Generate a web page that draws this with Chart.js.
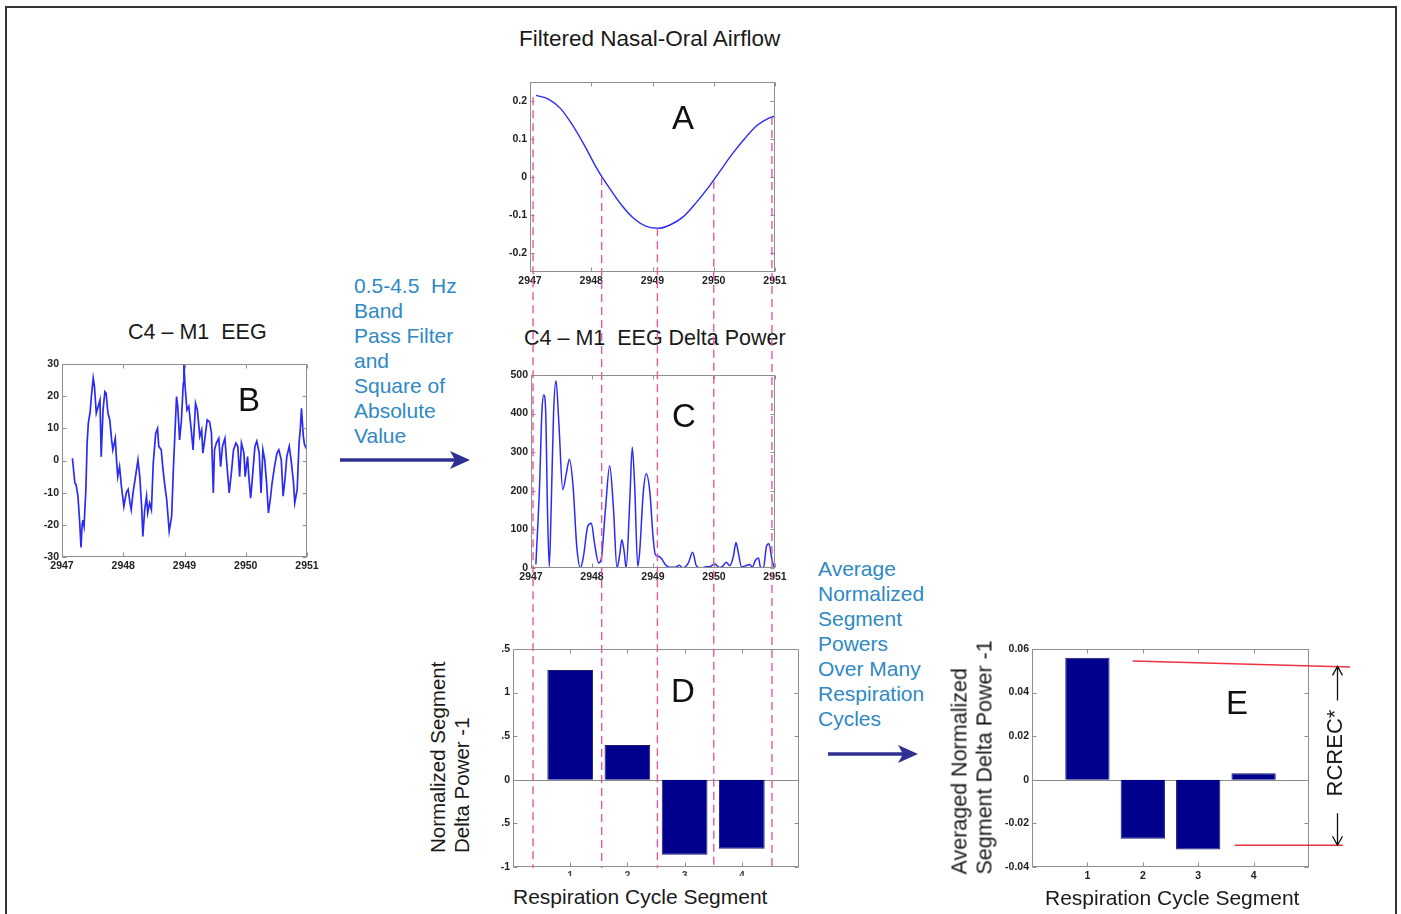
<!DOCTYPE html>
<html>
<head>
<meta charset="utf-8">
<script src="https://cdn.jsdelivr.net/npm/chart.js@4.4.0/dist/chart.umd.min.js"></script>
<style>
  html, body { margin: 0; padding: 0; background: #fff; overflow: hidden; }
  body { width: 1401px; height: 914px; position: relative; font-family: "Liberation Sans", Arial, sans-serif; color: #1a1a1a; }
  .frame { position: absolute; left: 5px; top: 6px; width: 1392px; height: 940px; border: 2px solid #333; box-sizing: border-box; }
  .panel { position: absolute; }
  .panel canvas { display: block; }
  .txt { position: absolute; font-size: 21px; line-height: 25px; white-space: nowrap; }
  .blue { color: #2f89c3; }
  .letter { position: absolute; font-size: 33px; line-height: 33px; width: 40px; text-align: center; color: #111; }
  .rot { position: absolute; transform: rotate(-90deg); white-space: nowrap; }
  svg { position: absolute; left: 0; top: 0; }
</style>
</head>
<body>
<div class="frame"></div>

<div class="txt" style="left:519px; top:26px; font-size:22.5px;">Filtered Nasal-Oral Airflow</div>
<div class="txt" style="left:128px; top:320px; font-size:21.5px;">C4 – M1&nbsp; EEG</div>
<div class="txt" style="left:524px; top:326px; font-size:21.5px;">C4 – M1&nbsp; EEG Delta Power</div>

<div class="txt blue" style="left:354px; top:273px;">0.5-4.5&nbsp; Hz<br>Band<br>Pass Filter<br>and<br>Square of<br>Absolute<br>Value</div>
<div class="txt blue" style="left:818px; top:556px;">Average<br>Normalized<br>Segment<br>Powers<br>Over Many<br>Respiration<br>Cycles</div>

<div class="panel" style="left:495px; top:76px; width:300px; height:220px;"><canvas id="chartA"></canvas></div>
<div class="panel" style="left:25px; top:358px; width:300px; height:225px;"><canvas id="chartB"></canvas></div>
<div class="panel" style="left:495px; top:369px; width:300px; height:225px;"><canvas id="chartC"></canvas></div>
<div class="panel" style="left:480px; top:643px; width:330px; height:250px;"><canvas id="chartD"></canvas></div>
<div class="panel" style="left:960px; top:643px; width:436px; height:250px;"><canvas id="chartE"></canvas></div>

<div class="rot" style="left:340px; top:719px; width:220px; height:48px; font-size:20.5px; line-height:24px; text-align:left;">Normalized Segment<br>Delta Power -1</div>
<div class="rot" style="left:855px; top:732px; width:235px; height:50px; font-size:21.5px; line-height:25px; text-align:left;">Averaged Normalized<br>Segment Delta Power -1</div>
<div class="rot" style="left:1285px; top:740px; width:100px; height:26px; line-height:26px; text-align:center; font-size:22px;">RCREC*</div>
<div class="txt" style="left:500px; top:876px; width:290px; padding:8px 0 0 13px; background:#fff;">Respiration Cycle Segment</div>
<div class="txt" style="left:1045px; top:885px;">Respiration Cycle Segment</div>

<div class="letter" style="left:663px; top:101px;">A</div>
<div class="letter" style="left:229px; top:383px;">B</div>
<div class="letter" style="left:664px; top:399px;">C</div>
<div class="letter" style="left:663px; top:674px;">D</div>
<div class="letter" style="left:1217px; top:686px;">E</div>

<svg width="1401" height="914">
  <line x1="340" y1="460" x2="462" y2="460" stroke="#2e3192" stroke-width="3.5"/>
  <polygon points="450,451 470,460 450,469 455,460" fill="#2e3192"/>
  <line x1="828" y1="754" x2="908" y2="754" stroke="#2e3192" stroke-width="3.5"/>
  <polygon points="898,745 918,754 898,763 903,754" fill="#2e3192"/>
</svg>

<div class="panel" style="left:530px; top:82px; width:245px; height:786px; pointer-events:none;"><canvas id="overlay"></canvas></div>

<script>
// Panel A: filtered nasal-oral airflow
const airT = [2947.10, 2947.30, 2947.50, 2947.70, 2947.90, 2948.10, 2948.30, 2948.50, 2948.70, 2948.90,
              2949.10, 2949.30, 2949.50, 2949.70, 2949.90, 2950.10, 2950.30, 2950.50, 2950.70, 2950.90, 2951.00];
const airV = [0.215, 0.205, 0.18, 0.135, 0.08, 0.02, -0.03, -0.075, -0.11, -0.13,
              -0.135, -0.125, -0.105, -0.07, -0.03, 0.015, 0.06, 0.10, 0.135, 0.155, 0.16];

// Panel B: C4-M1 EEG
const eegT = [2947.17, 2947.21, 2947.23, 2947.26, 2947.29, 2947.31, 2947.33, 2947.34, 2947.36, 2947.39,
              2947.41, 2947.43, 2947.46, 2947.48, 2947.51, 2947.53, 2947.56, 2947.59, 2947.62, 2947.64,
              2947.67, 2947.70, 2947.72, 2947.75, 2947.78, 2947.81, 2947.83, 2947.87, 2947.89, 2947.91,
              2947.94, 2947.97, 2948.01, 2948.05, 2948.08, 2948.11, 2948.13, 2948.16, 2948.20, 2948.24,
              2948.27, 2948.30, 2948.32, 2948.35, 2948.38, 2948.40, 2948.43, 2948.46, 2948.49, 2948.53,
              2948.56, 2948.58, 2948.62, 2948.65, 2948.68, 2948.71, 2948.75, 2948.79, 2948.82, 2948.87,
              2948.89, 2948.92, 2948.95, 2948.98, 2948.99, 2949.01, 2949.04, 2949.07, 2949.11, 2949.14,
              2949.18, 2949.21, 2949.25, 2949.28, 2949.30, 2949.33, 2949.37, 2949.41, 2949.44, 2949.47,
              2949.49, 2949.52, 2949.56, 2949.59, 2949.62, 2949.66, 2949.69, 2949.73, 2949.77, 2949.80,
              2949.84, 2949.87, 2949.90, 2949.93, 2949.97, 2949.99, 2950.03, 2950.05, 2950.08, 2950.11,
              2950.15, 2950.18, 2950.22, 2950.25, 2950.28, 2950.31, 2950.34, 2950.37, 2950.40, 2950.43,
              2950.47, 2950.51, 2950.54, 2950.58, 2950.61, 2950.64, 2950.67, 2950.71, 2950.74, 2950.78,
              2950.80, 2950.84, 2950.87, 2950.89, 2950.91, 2950.94, 2950.96, 2951.00];
const eegV = [0.7, -7, -7.5, -11, -19.5, -27, -19.5, -18.5, -20.5, -9,
              5.4, 11.6, 15.2, 20, 25.6, 23, 14.7, 16.8, 18.8, 1.2,
              15.7, 21.4, 20.9, 14.7, 12.6, 6.4, 3.3, 6.9, 0.2, -5,
              -1.9, -8, -14.3, -10, -9, -13.2, -15.3, -10, -5, 0.2,
              -5, -14.3, -23.6, -15.3, -11.1, -16.3, -13.2, -15.3, -0.8, 8.5,
              10, 4.4, 3.3, -2.9, -8, -12.2, -22, -17.4, -1.9, 19.9,
              16.8, 6.4, 12.6, 24, 30, 23, 15.7, 16.8, 9.5, 3.3,
              17.8, 15.7, 7.5, 9.5, 2.3, 6.4, 12.6, 12, 8.5, -10.1,
              3.3, 5.4, 6.9, -1.9, 4.4, 6.9, -0.8, -10.1, -2.9, 3.3,
              5.4, 4.4, -5, 5.4, 2.3, -5, 1.2, -5, -11.7, -5,
              4.4, 6, 2.3, -10.1, 3.3, 0.2, -7, -16.3, -12.2, -7,
              -1.9, 2.3, 3.3, 0.2, -11.1, -6, 1.2, 4.4, 0.2, -7,
              -13.2, -9, 5.4, 9.5, 16.2, 7.5, 4.9, 3.3];

// Panel C: EEG delta power
const powT = [2947.08, 2947.14, 2947.18, 2947.21, 2947.24, 2947.27, 2947.30, 2947.33, 2947.37, 2947.41,
              2947.46, 2947.52, 2947.58, 2947.63, 2947.69, 2947.75, 2947.81, 2947.86, 2947.93, 2947.99,
              2948.04, 2948.11, 2948.15, 2948.22, 2948.29, 2948.35, 2948.41, 2948.45, 2948.49, 2948.53,
              2948.56, 2948.62, 2948.66, 2948.70, 2948.75, 2948.78, 2948.84, 2948.89, 2948.95, 2949.00,
              2949.04, 2949.10, 2949.15, 2949.20, 2949.27, 2949.36, 2949.43, 2949.49, 2949.58, 2949.65,
              2949.71, 2949.78, 2949.87, 2949.94, 2950.01, 2950.09, 2950.14, 2950.20, 2950.26, 2950.32,
              2950.36, 2950.40, 2950.45, 2950.52, 2950.58, 2950.63, 2950.68, 2950.73, 2950.76, 2950.81,
              2950.86, 2950.90, 2950.95, 2950.98];
const powV = [9, 211, 409, 448, 409, 151, 4, 151, 401, 485,
              366, 203, 246, 282, 211, 56, 0, 30, 108, 116,
              65, 13, 22, 151, 265, 159, 0, 30, 73, 39,
              0, 177, 313, 211, 4, 39, 194, 244, 194, 82,
              34, 30, 22, 9, 2, 2, 7, 0, 13, 41,
              6, 0, 3, 4, 11, 1, 4, 15, 6, 32,
              66, 39, 3, 6, 9, 3, 20, 26, 3, 0,
              56, 63, 22, 3];

// Respiration cycle segment boundaries (dashed lines) and where they meet the airflow curve
const markT = [2947.05, 2948.17, 2949.08, 2950.00, 2950.95];
const markV = [0.21, 0.0, -0.135, -0.01, 0.158];

// Panels D and E: segment powers
const segments = [1, 2, 3, 4];
const segPower = [1.26, 0.40, -0.86, -0.79];
const avgSegPower = [0.056, -0.027, -0.032, 0.003];
const rcrecTop = 0.052;
const rcrecBottom = -0.030;

// tick values / labels
const timeTicks = [2947, 2948, 2949, 2950, 2951];
const timeLabels = ['2947', '2948', '2949', '2950', '2951'];
const airTicks = [-0.2, -0.1, 0, 0.1, 0.2];
const airLabels = ['-0.2', '-0.1', '0', '0.1', '0.2'];
const eegTicks = [-30, -20, -10, 0, 10, 20, 30];
const eegLabels = ['-30', '-20', '-10', '0', '10', '20', '30'];
const powTicks = [0, 100, 200, 300, 400, 500];
const powLabels = ['0', '100', '200', '300', '400', '500'];
const segLabels = ['1', '2', '3', '4'];
const dTicks = [-1, -0.5, 0, 0.5, 1, 1.5];
const dLabels = ['-1', '.5', '0', '.5', '1', '.5'];
const eTicks = [-0.04, -0.02, 0, 0.02, 0.04, 0.06];
const eLabels = ['-0.04', '-0.02', '0', '0.02', '0.04', '0.06'];

Chart.defaults.font.family = '"Liberation Sans", Arial, sans-serif';
Chart.defaults.animation = false;
Chart.defaults.plugins.legend.display = false;
Chart.defaults.plugins.tooltip.enabled = false;

const LINE_BLUE = '#2b2bf2';
const BOX_GREY = '#8f8f8f';

// MATLAB-like box: grey frame, inward ticks on all sides, optional zero line
const boxAxes = {
  id: 'boxAxes',
  beforeDatasetsDraw(chart, args, opts) {
    if (!opts.zeroLine) return;
    const { ctx, chartArea: a, scales } = chart;
    const y = Math.round(scales.y.getPixelForValue(0)) + 0.5;
    ctx.save();
    ctx.strokeStyle = '#8a8a8a';
    ctx.lineWidth = 1;
    ctx.beginPath();
    ctx.moveTo(a.left, y);
    ctx.lineTo(a.right, y);
    ctx.stroke();
    ctx.restore();
  },
  afterDatasetsDraw(chart, args, opts) {
    if (!opts.show) return;
    const { ctx, chartArea: a, scales } = chart;
    const L = Math.round(a.left) + 0.5, R = Math.round(a.right) - 0.5;
    const T = Math.round(a.top) + 0.5, B = Math.round(a.bottom) - 0.5;
    ctx.save();
    ctx.strokeStyle = BOX_GREY;
    ctx.lineWidth = 1;
    ctx.strokeRect(L, T, R - L, B - T);
    ctx.beginPath();
    scales.x.ticks.forEach(t => {
      const x = Math.round(scales.x.getPixelForValue(t.value)) + 0.5;
      ctx.moveTo(x, B); ctx.lineTo(x, B - 4);
      ctx.moveTo(x, T); ctx.lineTo(x, T + 4);
    });
    scales.y.ticks.forEach(t => {
      const y = Math.round(scales.y.getPixelForValue(t.value)) + 0.5;
      ctx.moveTo(L, y); ctx.lineTo(L + 4, y);
      ctx.moveTo(R, y); ctx.lineTo(R - 4, y);
    });
    ctx.stroke();
    ctx.restore();
  }
};

// red RCREC range lines and arrows on panel E
const rcrecMarks = {
  id: 'rcrecMarks',
  afterDatasetsDraw(chart, args, o) {
    if (!o.lines) return;
    const { ctx, scales: { x, y } } = chart;
    ctx.save();
    ctx.strokeStyle = '#ec3340';
    ctx.lineWidth = 1.5;
    o.lines.forEach(l => {
      ctx.beginPath();
      ctx.moveTo(x.getPixelForValue(l.from), y.getPixelForValue(l.y0));
      ctx.lineTo(x.getPixelForValue(l.to), y.getPixelForValue(l.y1));
      ctx.stroke();
    });
    const ax = Math.round(x.getPixelForValue(o.arrowX)) + 0.5;
    const yt = y.getPixelForValue(o.top);
    const yb = y.getPixelForValue(o.bottom);
    ctx.strokeStyle = '#111';
    ctx.lineWidth = 1.3;
    ctx.beginPath();
    ctx.moveTo(ax, yt + 34); ctx.lineTo(ax, yt);
    ctx.moveTo(ax - 5, yt + 9); ctx.lineTo(ax, yt); ctx.lineTo(ax + 5, yt + 9);
    ctx.moveTo(ax, yb - 32); ctx.lineTo(ax, yb);
    ctx.moveTo(ax - 5, yb - 9); ctx.lineTo(ax, yb); ctx.lineTo(ax + 5, yb - 9);
    ctx.stroke();
    ctx.restore();
  }
};

Chart.register(boxAxes, rcrecMarks);

function tickFont() {
  return { size: 10.5, weight: 'bold' };
}

function scaleX(min, max, ticks, labels, h, color) {
  return {
    type: 'linear', min: min, max: max, offset: false,
    grid: { display: false, drawTicks: false }, border: { display: false },
    afterBuildTicks: s => { s.ticks = ticks.map(v => ({ value: v })); },
    afterFit: s => { s.height = h; s.paddingLeft = 0; s.paddingRight = 0; },
    ticks: { font: tickFont(), color: color || '#222', padding: 3, maxRotation: 0, autoSkip: false,
             callback: (v, i) => labels[i] }
  };
}

function scaleY(min, max, ticks, labels, w) {
  return {
    type: 'linear', min: min, max: max,
    grid: { display: false, drawTicks: false }, border: { display: false },
    afterBuildTicks: s => { s.ticks = ticks.map(v => ({ value: v })); },
    afterFit: s => { s.width = w; s.paddingTop = 0; s.paddingBottom = 0; },
    ticks: { font: tickFont(), color: '#222', padding: 3, autoSkip: false,
             callback: (v, i) => labels[i] }
  };
}

function lineChart(id, xs, ys, yMin, yMax, yTicks, yLabels, yW, padR, xH, width, interp) {
  return new Chart(document.getElementById(id), {
    type: 'line',
    data: {
      datasets: [{
        data: xs.map((x, i) => ({ x: x, y: ys[i] })),
        borderColor: LINE_BLUE,
        borderWidth: width,
        pointRadius: 0,
        cubicInterpolationMode: interp,
        tension: 0
      }]
    },
    options: {
      responsive: true, maintainAspectRatio: false,
      layout: { padding: { top: 6, right: padR, left: 0, bottom: 0 } },
      scales: {
        x: scaleX(2947, 2951, timeTicks, timeLabels, xH),
        y: scaleY(yMin, yMax, yTicks, yLabels, yW)
      },
      plugins: { boxAxes: { show: true } }
    }
  });
}

lineChart('chartA', airT, airV, -0.25, 0.25, airTicks, airLabels, 35, 20, 24, 1.4, 'monotone');
lineChart('chartB', eegT, eegV, -30, 30, eegTicks, eegLabels, 37, 18, 26, 1.7, 'default');
lineChart('chartC', powT, powV, 0, 500, powTicks, powLabels, 36, 20, 26, 1.5, 'monotone');

function barChart(id, vals, yMin, yMax, yTicks, yLabels, yW, padR, xColor, extra) {
  return new Chart(document.getElementById(id), {
    type: 'bar',
    data: {
      datasets: [{
        data: segments.map((s, i) => ({ x: s, y: vals[i] })),
        backgroundColor: '#00008c',
        borderColor: '#1c1c6a',
        borderWidth: 1,
        barPercentage: 0.8,
        categoryPercentage: 1
      }]
    },
    options: {
      responsive: true, maintainAspectRatio: false,
      layout: { padding: { top: 6, right: padR, left: 0, bottom: 0 } },
      scales: {
        x: scaleX(0, 5, segments, segLabels, 26, xColor),
        y: scaleY(yMin, yMax, yTicks, yLabels, yW)
      },
      plugins: Object.assign({ boxAxes: { show: true, zeroLine: true } }, extra || {})
    }
  });
}

barChart('chartD', segPower, -1, 1.5, dTicks, dLabels, 33, 11, '#444');
barChart('chartE', avgSegPower, -0.04, 0.06, eTicks, eLabels, 72, 87, '#222', {
  rcrecMarks: {
    lines: [
      { from: 1.82, to: 5.74, y0: 0.0545, y1: 0.0518 },
      { from: 3.66, to: 5.61, y0: rcrecBottom, y1: rcrecBottom }
    ],
    arrowX: 5.5,
    top: rcrecTop,
    bottom: rcrecBottom
  }
});

// dashed segment boundaries running from the airflow curve down through panels C and D.
// overlay y scale continues panel A's scale (0.5 per 190px) down to the bottom of panel D
const overlayMin = 0.25 - 786 * (0.5 / 190);
new Chart(document.getElementById('overlay'), {
  type: 'line',
  data: {
    datasets: markT.map((t, i) => ({
      data: [{ x: t, y: markV[i] }, { x: t, y: overlayMin }],
      borderColor: '#e35aa3',
      borderWidth: 1.4,
      borderDash: [8, 5],
      pointRadius: 0,
      clip: false
    }))
  },
  options: {
    responsive: true, maintainAspectRatio: false,
    layout: { padding: 0 },
    scales: {
      x: { type: 'linear', min: 2947, max: 2951, display: false },
      y: { type: 'linear', min: overlayMin, max: 0.25, display: false }
    }
  }
});
</script>
</body>
</html>
